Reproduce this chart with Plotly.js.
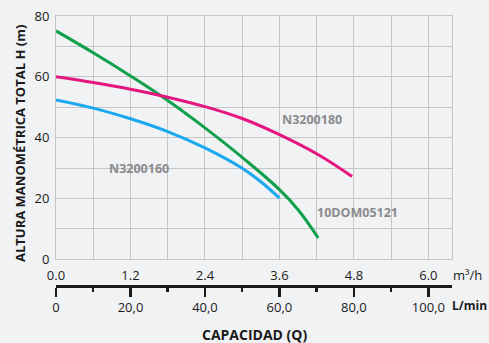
<!DOCTYPE html>
<html>
<head>
<meta charset="utf-8">
<script src="https://cdn.plot.ly/plotly-3.0.1.min.js"></script>
<style>html,body{margin:0;padding:0;background:#f1f2f4;}#chart{width:489px;height:343px;}</style>
</head>
<body>
<div id="chart"></div>
<script>
// Flow (m³/h) and head (m)
const flowGreen = [0, 0.6, 1.2, 1.8, 2.4, 3.0, 3.6, 3.9, 4.225];
const headGreen = [75.1, 67.9, 60.3, 52.2, 43.2, 33.5, 22.9, 16.3, 7.0];
const flowPink = [0, 0.6, 1.2, 1.8, 2.4, 3.0, 3.6, 4.2, 4.77];
const headPink = [60.0, 58.1, 55.9, 53.3, 50.2, 46.3, 41.0, 34.7, 27.2];
const flowBlue = [0, 0.6, 1.2, 1.8, 2.4, 3.0, 3.3, 3.6];
const headBlue = [52.4, 49.7, 46.2, 42.0, 36.6, 29.9, 25.5, 20.1];

const seriesNames = ['10DOM05121', 'N3200180', 'N3200160'];

const m3hTickVals = [0, 0.6, 1.2, 1.8, 2.4, 3.0, 3.6, 4.2, 4.8, 5.4, 6.0];
const m3hTickText = ['0.0', '', '1.2', '', '2.4', '', '3.6', '', '4.8', '', '6.0'];
const lminTickVals = [0, 20, 40, 60, 80, 100];
const lminTickText = ['0', '20,0', '40,0', '60,0', '80,0', '100,0'];
const headTickVals = [0, 10, 20, 30, 40, 50, 60, 70, 80];
const headTickText = ['0', '', '20', '', '40', '', '60', '', '80'];

const xMax = 6.38;
const toLmin = v => v * 1000 / 60;

const grid = '#c6c6c8';
const font = '"Open Sans", "Noto Sans", sans-serif';

const traces = [
  {x: flowGreen, y: headGreen, name: seriesNames[0], mode: 'lines', line: {color: '#10a04b', width: 3, shape: 'spline', smoothing: 1.2}, hoverinfo: 'skip'},
  {x: flowPink, y: headPink, name: seriesNames[1], mode: 'lines', line: {color: '#e6167f', width: 3, shape: 'spline', smoothing: 1.2}, hoverinfo: 'skip'},
  {x: flowBlue, y: headBlue, name: seriesNames[2], mode: 'lines', line: {color: '#1aa9ee', width: 3, shape: 'spline', smoothing: 1.2}, hoverinfo: 'skip'},
  {x: flowPink.map(toLmin), y: headPink, xaxis: 'x2', mode: 'lines', opacity: 0, line: {width: 0}, hoverinfo: 'skip', showlegend: false}
];

const labelFont = {family: font, size: 12.5, color: '#8a8b8d', weight: 'bold'};
const darkBold = {family: font, size: 13, color: '#1a1a1a', weight: 'bold'};

const layout = {
  width: 489, height: 343,
  margin: {l: 56, r: 37, t: 16, b: 57},
  paper_bgcolor: '#f1f2f4', plot_bgcolor: '#f1f2f4',
  showlegend: false,
  font: {family: font, size: 13, color: '#1a1a1a'},
  xaxis: {
    range: [0, xMax], tickmode: 'array', tickvals: m3hTickVals, ticktext: m3hTickText,
    showgrid: true, gridcolor: grid, gridwidth: 1, zeroline: false,
    showline: true, mirror: true, linecolor: grid, linewidth: 1,
    ticks: 'outside', ticklen: 4, tickcolor: 'rgba(0,0,0,0)',
    tickfont: {family: font, size: 13, color: '#1a1a1a'}
  },
  xaxis2: {
    overlaying: 'x', anchor: 'free', position: 0, side: 'bottom',
    range: [0, toLmin(xMax)], tickmode: 'array', tickvals: lminTickVals, ticktext: lminTickText,
    showgrid: false, zeroline: false, showline: true, linecolor: '#1a1a1a', linewidth: 2.5,
    ticks: 'outside', ticklen: 9, tickwidth: 2.5, tickcolor: '#1a1a1a',
    minor: {ticks: 'outside', ticklen: 4, tickwidth: 2.5, tickcolor: '#1a1a1a', tick0: 0, dtick: 10},
    tickfont: {family: font, size: 13, color: '#1a1a1a'}
  },
  yaxis: {
    domain: [0.099, 1], range: [0, 80], tickmode: 'array', tickvals: headTickVals, ticktext: headTickText,
    showgrid: true, gridcolor: grid, gridwidth: 1, zeroline: false,
    showline: true, mirror: true, linecolor: grid, linewidth: 1,
    ticks: 'outside', ticklen: 3, tickcolor: 'rgba(0,0,0,0)',
    tickfont: {family: font, size: 13, color: '#1a1a1a'}
  },
  annotations: [
    {xref: 'x', yref: 'y', x: 4.13, y: 46.0, text: seriesNames[1], showarrow: false, font: labelFont},
    {xref: 'x', yref: 'y', x: 1.34, y: 30.0, text: seriesNames[2], showarrow: false, font: labelFont},
    {xref: 'x', yref: 'y', x: 4.85, y: 15.4, text: seriesNames[0], showarrow: false, font: labelFont},
    {xref: 'paper', yref: 'paper', x: -0.0909, y: 0.526, text: 'ALTURA MANOMÉTRICA TOTAL H (m)', textangle: -90, showarrow: false, xanchor: 'center', yanchor: 'middle', font: darkBold},
    {xref: 'paper', yref: 'paper', x: 1.0, y: 0.041, text: 'm³/h', showarrow: false, xanchor: 'left', yanchor: 'middle', xshift: -1, font: {family: font, size: 13, color: '#1a1a1a'}},
    {xref: 'paper', yref: 'paper', x: 1.0, y: -0.074, text: 'L/min', showarrow: false, xanchor: 'left', yanchor: 'middle', xshift: -2, font: {family: font, size: 12, color: '#1a1a1a', weight: 'bold'}},
    {xref: 'paper', yref: 'paper', x: 0.502, y: -0.181, text: 'CAPACIDAD (Q)', showarrow: false, xanchor: 'center', yanchor: 'middle', font: {family: font, size: 14, color: '#1a1a1a', weight: 'bold'}}
  ]
};

Plotly.newPlot('chart', traces, layout, {staticPlot: true, displayModeBar: false});
</script>
</body>
</html>
